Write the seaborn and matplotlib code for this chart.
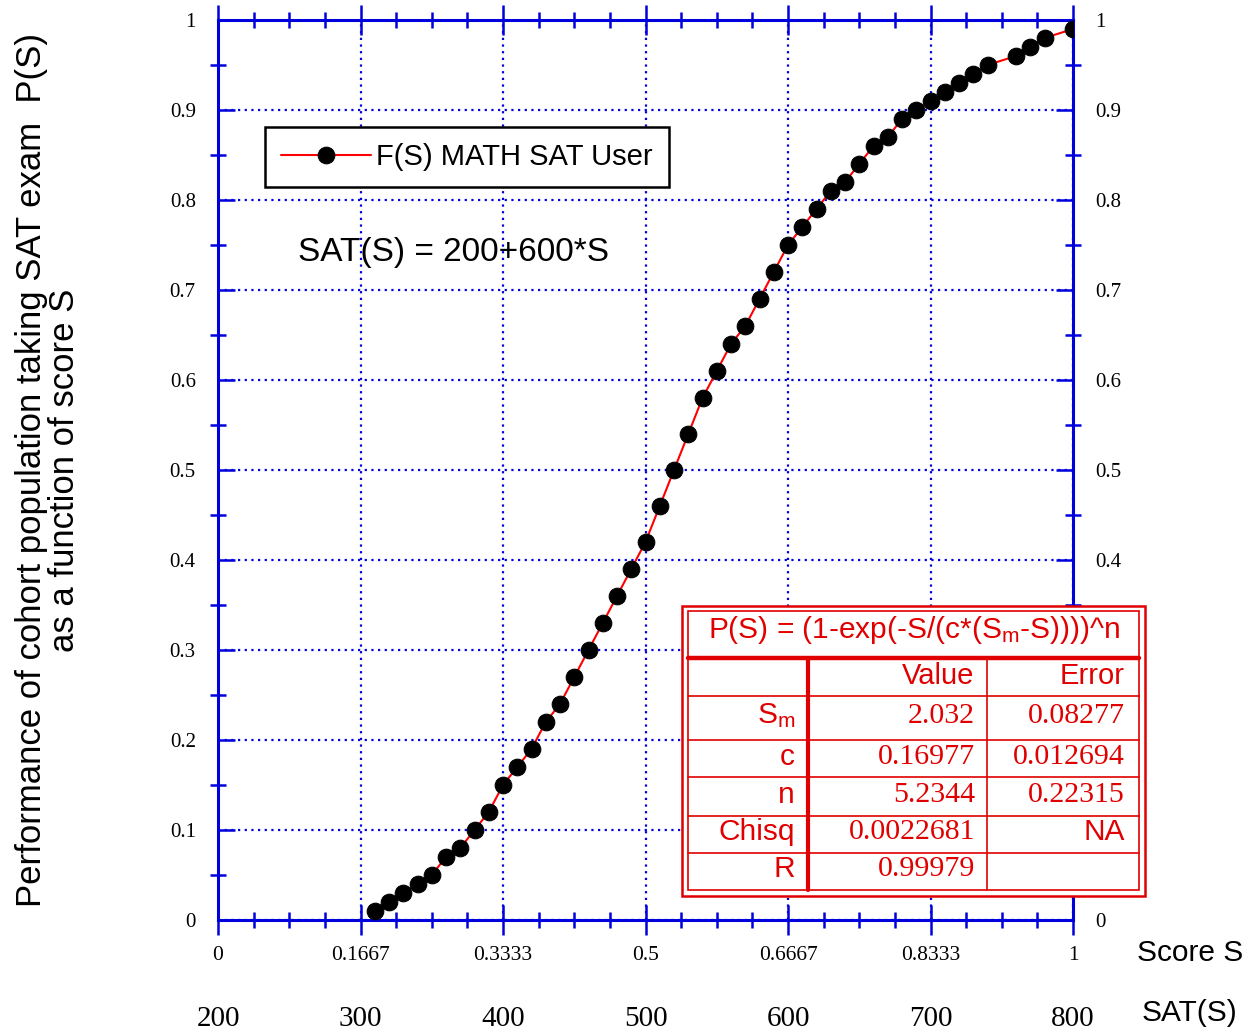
import matplotlib
matplotlib.use('Agg')
import matplotlib.pyplot as plt
import seaborn as sns
import numpy as np
import pandas as pd
from matplotlib.patches import Rectangle
from matplotlib.ticker import MultipleLocator

# SAT score of each measured point and the cumulative fraction P(S)
sat_scores = [310, 320, 330, 340, 350, 360, 370, 380, 390, 400,
              410, 420, 430, 440, 450, 460, 470, 480, 490, 500,
              510, 520, 530, 540, 550, 560, 570, 580, 590, 600,
              610, 620, 630, 640, 650, 660, 670, 680, 690, 700,
              710, 720, 730, 740, 760, 770, 780, 800]
p_values = [0.01, 0.02, 0.03, 0.04, 0.05, 0.07, 0.08, 0.10, 0.12, 0.15,
            0.17, 0.19, 0.22, 0.24, 0.27, 0.30, 0.33, 0.36, 0.39, 0.42,
            0.46, 0.50, 0.54, 0.58, 0.61, 0.64, 0.66, 0.69, 0.72, 0.75,
            0.77, 0.79, 0.81, 0.82, 0.84, 0.86, 0.87, 0.89, 0.90, 0.91,
            0.92, 0.93, 0.94, 0.95, 0.96, 0.97, 0.98, 0.99]

xtick_vals = [0, 1/6, 2/6, 3/6, 4/6, 5/6, 1]
xtick_labels = ['0', '0.1667', '0.3333', '0.5', '0.6667', '0.8333', '1']
sat_ticks = [200, 300, 400, 500, 600, 700, 800]
ytick_vals = [0, 0.1, 0.2, 0.3, 0.4, 0.5, 0.6, 0.7, 0.8, 0.9, 1.0]
ytick_labels = ['0', '0.1', '0.2', '0.3', '0.4', '0.5', '0.6', '0.7', '0.8', '0.9', '1']
# right-hand labels that sit under the fit box
hidden_right = [0.1, 0.2, 0.3]

fit_title = 'P(S) = (1-exp(-S/(c*(S$_\\mathrm{m}$-S))))^n'
fit_params = ['S$_\\mathrm{m}$', 'c', 'n', 'Chisq', 'R']
fit_values = ['2.032', '0.16977', '5.2344', '0.0022681', '0.99979']
fit_errors = ['0.08277', '0.012694', '0.22315', 'NA', '']

df = pd.DataFrame({'S': [(s - 200) / 600 for s in sat_scores], 'P': p_values})

sns.set_theme(style='white', rc={'text.color': 'black', 'xtick.labelcolor': 'black',
                                 'ytick.labelcolor': 'black'})
plt.rcParams['font.family'] = ['Liberation Sans', 'DejaVu Sans']
plt.rcParams['mathtext.fontset'] = 'custom'
plt.rcParams['mathtext.rm'] = 'Liberation Sans'
plt.rcParams['mathtext.it'] = 'Liberation Sans:italic'

BLUE = '#0000dd'
RED = '#e00000'
SERIF = 'Liberation Serif'
W, H = 1255, 1036

fig = plt.figure(figsize=(W / 100, H / 100), dpi=100)
ax = fig.add_axes([218 / W, 1 - 920 / H, 855 / W, 900 / H])

sns.lineplot(data=df, x='S', y='P', ax=ax, color='red', linewidth=1.5,
             marker='o', markersize=12, markerfacecolor='black',
             markeredgecolor='black', label='F(S) MATH SAT User', zorder=3)

ax.set_xlim(0, 1)
ax.set_ylim(0, 1)
ax.set_xlabel('')
ax.set_ylabel('')

for sp in ax.spines.values():
    sp.set_color(BLUE)
    sp.set_linewidth(2.2)

ax.set_xticks(xtick_vals)
ax.set_xticklabels(xtick_labels, fontfamily=SERIF, fontsize=15.5)
ax.set_yticks(ytick_vals)
ax.set_yticklabels(ytick_labels, fontfamily=SERIF, fontsize=15)
ax.xaxis.set_minor_locator(MultipleLocator(1 / 24))
ax.yaxis.set_minor_locator(MultipleLocator(0.05))

ax.tick_params(axis='x', which='major', direction='inout', length=22, width=1.8,
               color=BLUE, labelcolor='black', top=True, bottom=True, pad=8)
ax.tick_params(axis='x', which='minor', direction='inout', length=12, width=1.8,
               color=BLUE, top=True, bottom=True)
ax.tick_params(axis='y', which='major', direction='in', length=12, width=1.8,
               color=BLUE, labelcolor='black', left=True, right=True,
               labelleft=True, labelright=True, pad=16)
ax.tick_params(axis='y', which='minor', direction='inout', length=12, width=1.8,
               color=BLUE, left=True, right=True)

for val, tick in zip(ytick_vals, ax.yaxis.get_major_ticks()):
    if any(abs(val - h) < 1e-9 for h in hidden_right):
        tick.label2.set_visible(False)

ax.grid(True, which='major', color=BLUE, linestyle=(0, (1, 2)), linewidth=1.6)

# second row of x labels: SAT(S) = 200 + 600*S
sec = ax.secondary_xaxis(-0.093, functions=(lambda s: 200 + 600 * s,
                                             lambda t: (t - 200) / 600))
sec.set_xticks(sat_ticks)
sec.set_xticklabels([str(t) for t in sat_ticks], fontfamily=SERIF, fontsize=21)
sec.spines['bottom'].set_visible(False)
sec.tick_params(length=0, pad=2, labelcolor='black')

leg = ax.legend(loc='upper left', bbox_to_anchor=(0.055, 0.881), fontsize=21,
                frameon=True, fancybox=False, edgecolor='black', framealpha=1,
                handlelength=3.1, borderpad=0.55, handletextpad=0.15,
                borderaxespad=0)
leg.get_frame().set_linewidth(1.8)
for t in leg.get_texts():
    t.set_color('black')

ax.text((298 - 218) / 855, (920 - 253) / 900, 'SAT(S) = 200+600*S',
        transform=ax.transAxes, fontsize=24, ha='left', va='center', color='black')

fig.text(48 / W, 1 - 470 / H,
         'Performance of cohort population taking SAT exam  P(S)\nas a function of score S',
         rotation=90, ha='center', va='center', multialignment='center',
         fontsize=25, linespacing=1.0, color='black')
fig.text(1190 / W, 1 - 953 / H, 'Score S', fontsize=21.5, ha='center', va='center',
         color='black')
fig.text(1189 / W, 1 - 1013 / H, 'SAT(S)', fontsize=21.5, ha='center', va='center',
         color='black')

# fit results box, drawn in figure pixel coordinates
tax = fig.add_axes([0, 0, 1, 1], zorder=5)
tax.set_xlim(0, W)
tax.set_ylim(H, 0)
tax.axis('off')

tax.add_patch(Rectangle((682, 606), 463, 290, facecolor='white', edgecolor=RED, lw=1.8))
tax.add_patch(Rectangle((688, 611), 451, 279, facecolor='none', edgecolor=RED, lw=1.2))
tax.plot([688, 1139], [658, 658], color=RED, lw=3.2)
row_edges = [696, 740, 777, 816, 853]
for yy in row_edges:
    tax.plot([688, 1139], [yy, yy], color=RED, lw=1.2)
tax.plot([808, 808], [658, 890], color=RED, lw=3.0)
tax.plot([987, 987], [658, 890], color=RED, lw=1.2)

tax.text(914, 630, fit_title, color=RED, fontsize=21.5, ha='center', va='center')
tax.text(974, 676, 'Value', color=RED, fontsize=21, ha='right', va='center')
tax.text(1125, 676, 'Error', color=RED, fontsize=21, ha='right', va='center')
row_mids = [716, 757, 795, 832, 869]
for ym, lab, val, err in zip(row_mids, fit_params, fit_values, fit_errors):
    tax.text(795, ym, lab, color=RED, fontsize=21.5, ha='right', va='center')
    tax.text(975, ym, val, color=RED, fontsize=21.5, ha='right', va='center',
             fontfamily=SERIF)
    if err == 'NA':
        tax.text(1125, ym, err, color=RED, fontsize=21.5, ha='right', va='center')
    elif err:
        tax.text(1125, ym, err, color=RED, fontsize=21.5, ha='right', va='center',
                 fontfamily=SERIF)

plt.savefig('out.png', dpi=100)
plt.close()
